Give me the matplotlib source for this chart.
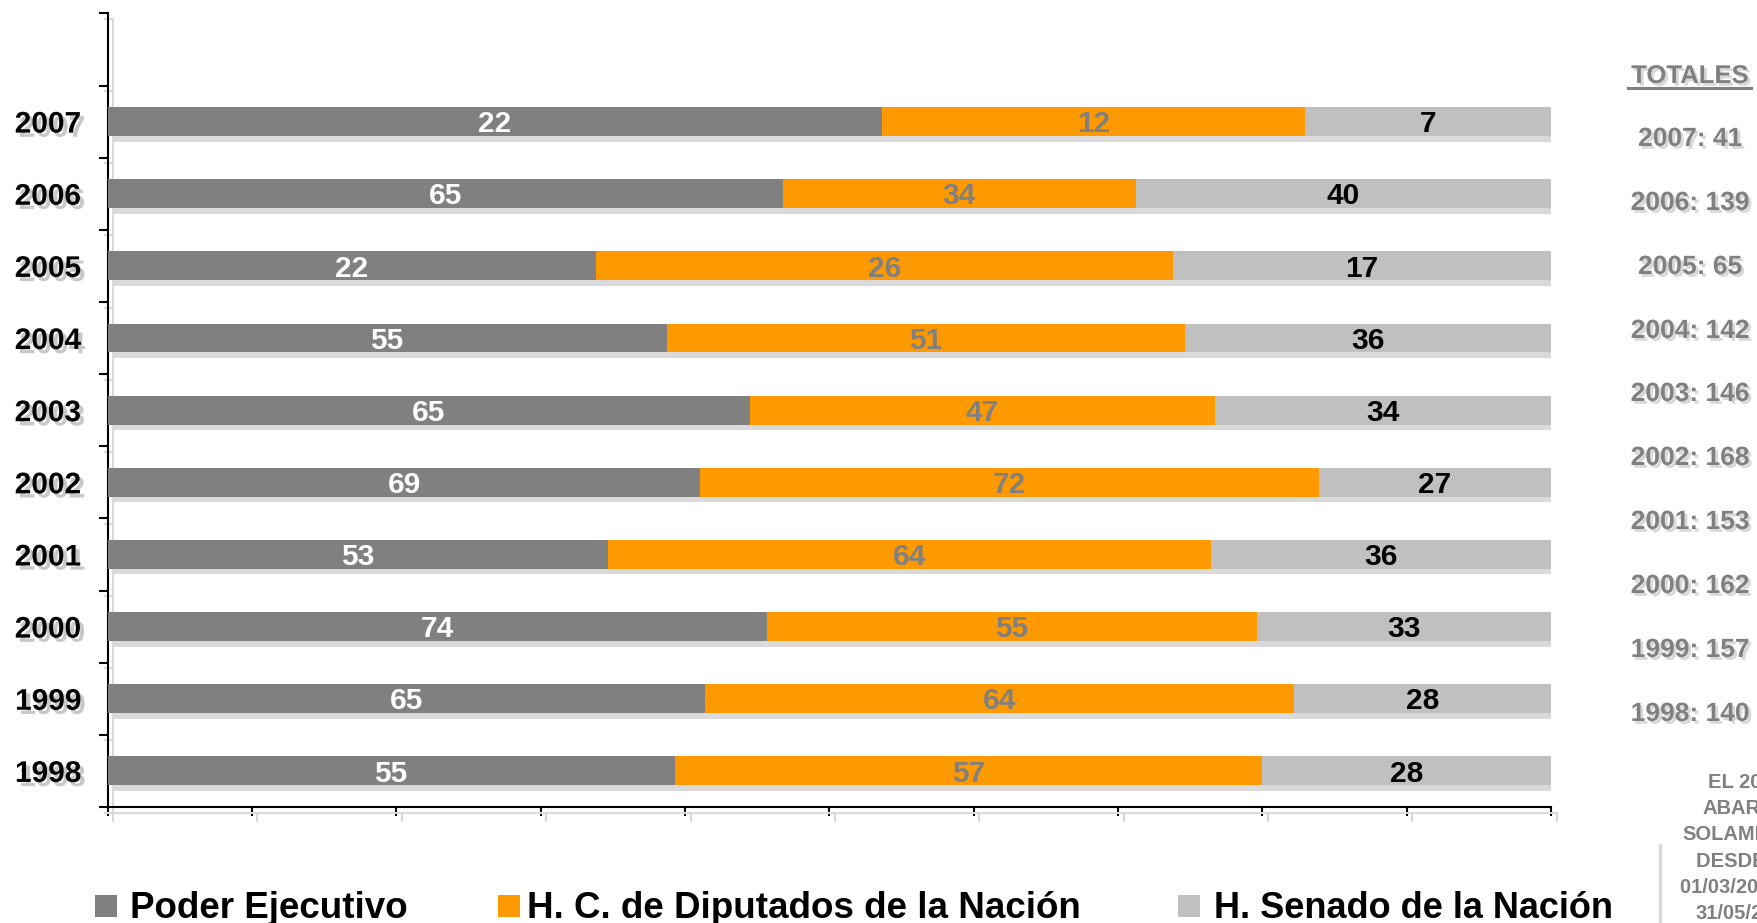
import matplotlib
matplotlib.use("Agg")
import matplotlib.pyplot as plt
import matplotlib.patheffects as pe
import matplotlib.transforms as mtransforms
from matplotlib.lines import Line2D
from matplotlib.patches import Rectangle
import numpy as np

years = ["1998", "1999", "2000", "2001", "2002", "2003", "2004", "2005", "2006", "2007"]
poder = [55, 65, 74, 53, 69, 65, 55, 22, 65, 22]
diputados = [57, 64, 55, 64, 72, 47, 51, 26, 34, 12]
senado = [28, 28, 33, 36, 27, 34, 36, 17, 40, 7]
series_names = ["Poder Ejecutivo", "H. C. de Diputados de la Nación", "H. Senado de la Nación"]
colors = ["#808080", "#FF9900", "#C0C0C0"]
label_colors = ["white", "#808080", "black"]
totales_title = "TOTALES"
note_text = "EL 2007\nABARCA\nSOLAMENTE\nDESDE EL\n01/03/2007 AL\n31/05/2007"

plt.rcParams['font.family'] = ['Liberation Sans', 'DejaVu Sans']
W, H = 1757, 923
fig = plt.figure(figsize=(W / 100, H / 100), dpi=100)
ax = fig.add_axes([107.6 / W, 1 - 807 / H, (1551 - 107.6) / W, (807 - 13.4) / H])

data = np.array([poder, diputados, senado], dtype=float)
totals = data.sum(axis=0)
pct = data / totals * 100
y = np.arange(len(years))
left = np.zeros(len(years))
shadow = [pe.SimplePatchShadow(offset=(4, -4), shadow_rgbFace="#DADADA", alpha=1.0), pe.Normal()]
val_fs = 21.5
val_trans = mtransforms.offset_copy(ax.transData, fig=fig, y=-0.716 * val_fs / 2, units="points")
for i in range(3):
    bars = ax.barh(y, pct[i], left=left, height=0.4, color=colors[i], edgecolor="none", zorder=3)
    for b in bars:
        b.set_path_effects(shadow)
    for j in range(len(years)):
        ax.text(left[j] + pct[i][j] / 2, y[j], f"{int(data[i][j])}", ha="center", va="baseline",
                color=label_colors[i], fontsize=val_fs, fontweight="bold",
                transform=val_trans, zorder=5)
    left = left + pct[i]

ax.set_xlim(0, 100)
ax.set_ylim(-0.5, len(years) + 0.5)
ax.set_xticks(np.arange(0, 101, 10))
ax.set_xticklabels([])
ax.set_yticks(np.arange(-0.5, len(years) + 0.6, 1))
ax.set_yticklabels([])
ax.set_yticks(y, minor=True)
ax.set_yticklabels(years, minor=True)
ax.tick_params(axis="y", which="minor", length=0, pad=19, labelsize=21.5)
ax.tick_params(axis="both", which="major", length=6.5, width=1.5, direction="out", color="black")
for lab in ax.get_yticklabels(minor=True):
    lab.set_fontweight("bold")
    lab.set_path_effects([pe.withSimplePatchShadow(offset=(3, -3), shadow_rgbFace="#C8C8C8", alpha=1.0)])
for s in ["top", "right"]:
    ax.spines[s].set_visible(False)
line_shadow = [pe.SimpleLineShadow(offset=(4, -4), shadow_color="#DADADA", alpha=1.0), pe.Normal()]
for s in ["left", "bottom"]:
    ax.spines[s].set_linewidth(1.5)
    ax.spines[s].set_path_effects(line_shadow)
for t in ax.xaxis.get_major_ticks() + ax.yaxis.get_major_ticks():
    t.tick1line.set_path_effects(line_shadow)

# Legend (manual layout)
marker_x = [95, 498, 1178]
text_x = [130, 527, 1214]
legend_sizes = [26.5, 26.5, 26.0]
legend_fams = [['Liberation Sans', 'DejaVu Sans'],
               ['Liberation Sans Narrow', 'Liberation Sans', 'DejaVu Sans'],
               ['Liberation Sans', 'DejaVu Sans']]
for name, c, mx, tx, fs, fam in zip(series_names, colors, marker_x, text_x, legend_sizes, legend_fams):
    fig.add_artist(Rectangle((mx / W, 1 - 917 / H), 22 / W, 22 / H, transform=fig.transFigure,
                             facecolor=c, edgecolor="none"))
    fig.text(tx / W, 1 - 918.5 / H, name, ha="left", va="baseline", fontsize=fs,
             fontweight="bold", color="black", family=fam)

# Totals panel
gray_shadow = [pe.withSimplePatchShadow(offset=(2, -2), shadow_rgbFace="#D8D8D8", alpha=1.0)]
fig.text(1690 / W, 1 - 76 / H, totales_title, ha="center", va="center", color="#808080",
         fontsize=18.5, fontweight="bold", path_effects=gray_shadow)
fig.add_artist(Line2D([1628 / W, 1751 / W], [1 - 88 / H, 1 - 88 / H], color="#808080", lw=2.2))
ypos = [714, 650, 586, 522, 458, 394, 331, 267, 203, 139]
for yr, tot, yp in zip(years, totals, ypos):
    fig.text(1690 / W, 1 - yp / H, f"{yr}: {int(tot)}", ha="center", va="center", color="#808080",
             fontsize=19, fontweight="bold", path_effects=gray_shadow)

fig.text(1746 / W, 1 - 848 / H, note_text, ha="center", va="center", color="#808080",
         fontsize=14.5, fontweight="bold", linespacing=1.47)
fig.add_artist(Line2D([1660 / W, 1660 / W], [0, 1 - 845 / H], color="#D9D9D9", lw=2.5))

fig.savefig("out.png", dpi=100, facecolor="white")
